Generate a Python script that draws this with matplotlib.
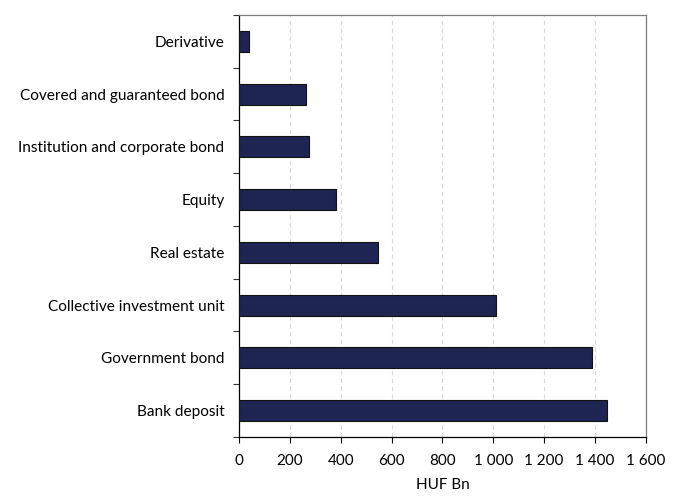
import matplotlib
matplotlib.use("Agg")
import matplotlib.pyplot as plt
import numpy as np
from matplotlib.ticker import FixedLocator, FuncFormatter

categories = ["Bank deposit", "Government bond", "Collective investment unit",
              "Real estate", "Equity", "Institution and corporate bond",
              "Covered and guaranteed bond", "Derivative"]
values = [1446, 1390, 1012, 545, 381, 276, 265, 39]
xticks = [0, 200, 400, 600, 800, 1000, 1200, 1400, 1600]
xlabel = "HUF Bn"

plt.rcParams['font.family'] = ['Lato', 'DejaVu Sans']

fig = plt.figure(figsize=(6.83, 4.98), dpi=100)
ax = fig.add_axes([0.350, 0.1225, 0.5954, 0.8474])

y = np.arange(len(categories))
ax.barh(y, values, height=0.4, color="#1f2552", edgecolor="#111111", linewidth=0.8, zorder=3)

ax.set_xlim(0, 1600)
ax.set_ylim(-0.5, len(categories) - 0.5)
ax.set_xticks(xticks)
ax.xaxis.set_major_formatter(FuncFormatter(lambda v, p: f"{int(v):,}".replace(",", " ")))
ax.set_yticks(y)
ax.set_yticklabels(categories)
ax.yaxis.set_minor_locator(FixedLocator(np.arange(-0.5, len(categories), 1.0)))
ax.tick_params(axis='y', which='major', length=0, pad=10.5, labelsize=11.1, colors='black')
ax.tick_params(axis='y', which='minor', length=4, width=0.8, color='#333333')
ax.tick_params(axis='x', which='major', length=4, width=0.8, labelsize=11, pad=8.5)

ax.grid(axis='x', linestyle=(0, (4, 3)), color='#d9d9d9', linewidth=0.8, zorder=0)
ax.set_axisbelow(True)

for s in ['top', 'right']:
    ax.spines[s].set_color('#7f7f7f')
    ax.spines[s].set_linewidth(0.9)
for s in ['left', 'bottom']:
    ax.spines[s].set_color('black')
    ax.spines[s].set_linewidth(0.9)

ax.set_xlabel(xlabel, fontsize=11, labelpad=7)

fig.savefig("out.png", dpi=100)
